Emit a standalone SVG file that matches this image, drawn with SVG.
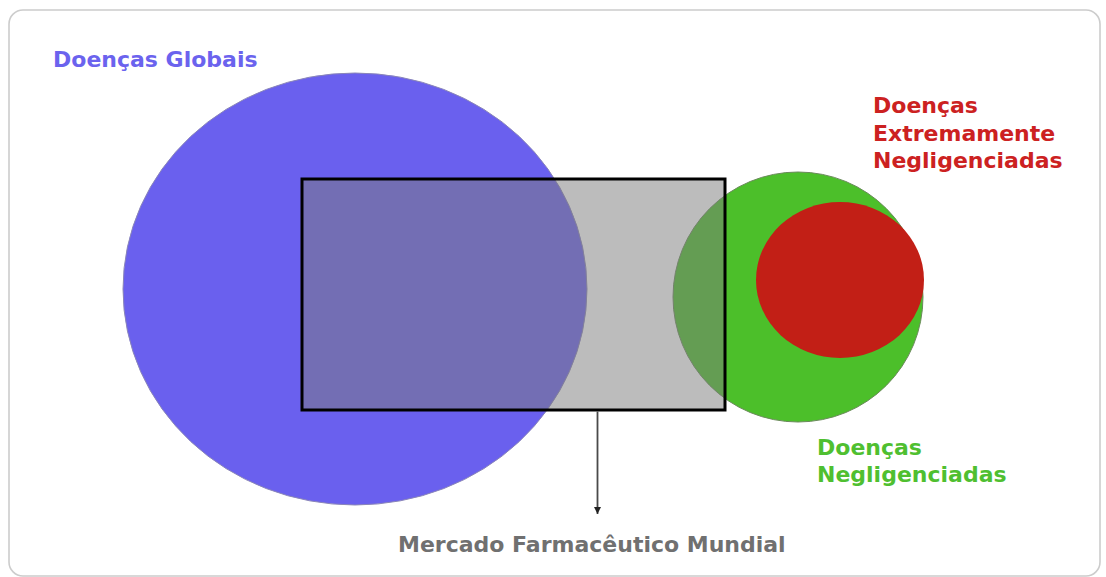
<svg xmlns="http://www.w3.org/2000/svg" width="1106" height="577" viewBox="0 0 1106 577">
<style>
.lbl{font-family:"DejaVu Sans",Verdana,"Liberation Sans",sans-serif;font-weight:bold;font-size:22px}
.conn{stroke:#4a4a4a;stroke-width:1.8;fill:none}
</style>
<defs>
<marker id="arr" viewBox="0 0 10 10" refX="10" refY="5" markerWidth="8" markerHeight="7" markerUnits="userSpaceOnUse" orient="auto">
<path d="M0,0 L10,5 L0,10 z" fill="#222222"/>
</marker>
</defs>
<rect x="0" y="0" width="1106" height="577" fill="#ffffff"/>
<rect id="frame" x="9" y="10" width="1091" height="566" rx="14" fill="#ffffff" stroke="#cccccc" stroke-width="1.6"/>
<g id="global">
<ellipse cx="355" cy="289" rx="232" ry="216" fill="#6a60ee" stroke="#8a86b8" stroke-width="1"/>
<text class="lbl" x="53" y="67" fill="#6b63ee">Doenças Globais</text>
</g>
<g id="neglected">
<circle cx="798" cy="297" r="125" fill="#4cbf2a" stroke="#6a8a5a" stroke-width="1"/>
<text class="lbl" fill="#4fbf30"><tspan x="817" y="455">Doenças</tspan><tspan x="817" y="482">Negligenciadas</tspan></text>
</g>
<g id="extreme">
<ellipse cx="840" cy="280" rx="84" ry="78" fill="#c21f16"/>
<text class="lbl" fill="#cc2121"><tspan x="873" y="113">Doenças</tspan><tspan x="873" y="141">Extremamente</tspan><tspan x="873" y="168">Negligenciadas</tspan></text>
</g>
<g id="market">
<rect x="302" y="179" width="423" height="231" fill="#7b7b7b" fill-opacity="0.51" stroke="#000000" stroke-width="3"/>
<text class="lbl" x="398" y="552" fill="#707070">Mercado Farmacêutico Mundial</text>
</g>
<g id="connectors">
<line class="conn" x1="597.5" y1="411.5" x2="597.5" y2="514" marker-end="url(#arr)"/>
</g>
</svg>
